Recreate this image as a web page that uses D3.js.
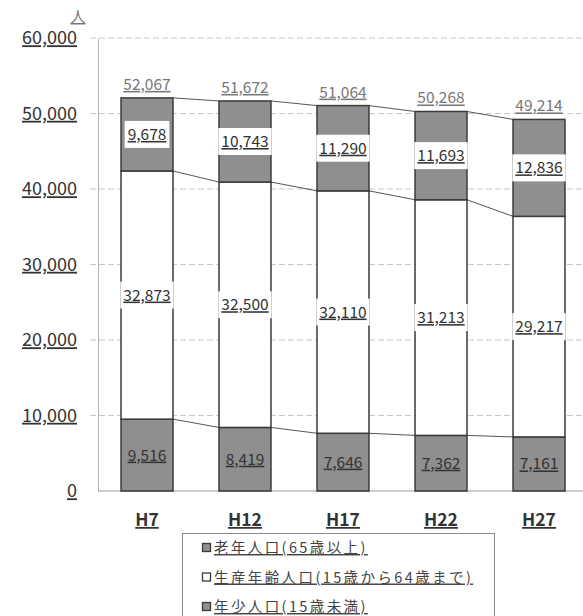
<!DOCTYPE html>
<html>
<head>
<meta charset="utf-8">
<script src="https://cdn.jsdelivr.net/npm/d3@7"></script>
<style>
  html, body { margin: 0; padding: 0; background: #fff; }
  svg { display: block; }
  text { font-family: "Noto Sans CJK JP", "Noto Sans", sans-serif; }
  .ul { text-decoration: underline; }
</style>
</head>
<body>
<svg id="chart" width="583" height="616"></svg>
<script>
// 年齢3区分別人口（人）
const categories = ["H7", "H12", "H17", "H22", "H27"];
const youngPop   = [9516, 8419, 7646, 7362, 7161];       // 年少人口(15歳未満)
const workingPop = [32873, 32500, 32110, 31213, 29217];  // 生産年齢人口(15歳から64歳まで)
const elderlyPop = [9678, 10743, 11290, 11693, 12836];   // 老年人口(65歳以上)
const totalPop   = [52067, 51672, 51064, 50268, 49214];  // 総人口
const yTicks     = [0, 10000, 20000, 30000, 40000, 50000, 60000];
const legendLabels = ["老年人口(65歳以上)", "生産年齢人口(15歳から64歳まで)", "年少人口(15歳未満)"];

const svg = d3.select("#chart");
const fmt = d3.format(",");

const x = d3.scaleBand().domain(categories).range([98, 588]).paddingInner(0.47).paddingOuter(0.235);
const y = d3.scaleLinear().domain([0, 60000]).range([491, 38]);

const gray = "#8f8f8f";
const edge = "#3a3a3a";

// gridlines
svg.append("g").selectAll("line").data(yTicks.slice(1)).join("line")
  .attr("x1", 90).attr("x2", 583)
  .attr("y1", d => y(d)).attr("y2", d => y(d))
  .attr("stroke", "#c8c8c8").attr("stroke-width", 1)
  .attr("stroke-dasharray", "6,3");

// y axis
const yAxis = svg.append("g").attr("transform", "translate(98,0)")
  .call(d3.axisLeft(y).tickValues(yTicks).tickFormat(fmt).tickSize(0).tickPadding(21));
yAxis.select(".domain").attr("stroke", "#b5b5b5");
yAxis.selectAll("text")
  .attr("class", "ul")
  .attr("font-size", 18).attr("fill", "#333")
  .style("font-family", "\"Noto Sans CJK JP\", sans-serif");

// baseline
svg.append("line").attr("x1", 98).attr("x2", 583).attr("y1", y(0)).attr("y2", y(0))
  .attr("stroke", "#9a9a9a");

// unit
svg.append("text").attr("class", "ul").attr("x", 78).attr("y", 22)
  .attr("text-anchor", "middle").attr("font-size", 15).attr("fill", "#777").text("人");

// stacked data
const rows = categories.map((c, i) => ({
  cat: c, young: youngPop[i], working: workingPop[i], elderly: elderlyPop[i], total: totalPop[i]
}));
const stack = d3.stack().keys(["young", "working", "elderly"])(rows);
const fills = { young: gray, working: "#ffffff", elderly: gray };

// connector lines between adjacent bars at each stack level
stack.forEach(layer => {
  for (let i = 0; i < layer.length - 1; i++) {
    svg.append("line")
      .attr("x1", x(categories[i]) + x.bandwidth()).attr("y1", y(layer[i][1]))
      .attr("x2", x(categories[i + 1])).attr("y2", y(layer[i + 1][1]))
      .attr("stroke", "#555").attr("stroke-width", 1);
  }
});

// bars
stack.forEach(layer => {
  svg.append("g").selectAll("rect").data(layer).join("rect")
    .attr("x", d => x(d.data.cat))
    .attr("y", d => y(d[1]))
    .attr("width", x.bandwidth())
    .attr("height", d => y(d[0]) - y(d[1]))
    .attr("fill", fills[layer.key])
    .attr("stroke", edge).attr("stroke-width", 1.5);
});

// segment labels
stack.forEach(layer => {
  const g = svg.append("g");
  layer.forEach(d => {
    const cx = x(d.data.cat) + x.bandwidth() / 2;
    const cy = (y(d[0]) + y(d[1])) / 2;
    const t = g.append("text").attr("class", "ul")
      .attr("x", cx).attr("y", cy + 5.5)
      .attr("text-anchor", "middle").attr("font-size", 15.5)
      .attr("fill", "#333").text(fmt(d.data[layer.key]));
    if (layer.key !== "young") {
      const w = t.node().getComputedTextLength() + 6;
      g.insert("rect", "text:last-child")
        .attr("x", cx - w / 2).attr("y", cy - 13.5)
        .attr("width", w).attr("height", 27).attr("fill", "#fff");
    }
  });
});

// total labels
svg.append("g").selectAll("text").data(rows).join("text")
  .attr("class", "ul")
  .attr("x", d => x(d.cat) + x.bandwidth() / 2)
  .attr("y", (d, i) => y(stack[2][i][1]) - 8)
  .attr("text-anchor", "middle").attr("font-size", 15.5)
  .attr("fill", "#777").text(d => fmt(d.total));

// category labels
svg.append("g").selectAll("text").data(categories).join("text")
  .attr("class", "ul")
  .attr("x", d => x(d) + x.bandwidth() / 2).attr("y", 526)
  .attr("text-anchor", "middle").attr("font-size", 17.5).attr("font-weight", "bold")
  .attr("fill", "#333").text(d => d);

// legend
const lg = svg.append("g");
lg.append("rect").attr("x", 182.5).attr("y", 533.5).attr("width", 312).attr("height", 100)
  .attr("fill", "#fff").attr("stroke", "#888");
const legendFills = [gray, "#ffffff", gray];
legendLabels.forEach((lab, i) => {
  const cy = 548 + i * 29.5;
  lg.append("rect").attr("x", 202.5).attr("y", cy - 4.5).attr("width", 8).attr("height", 8)
    .attr("fill", legendFills[i]).attr("stroke", edge).attr("stroke-width", 1.3);
  lg.append("text").attr("class", "ul").attr("x", 214).attr("y", cy + 5)
    .attr("font-size", 14.5).attr("letter-spacing", 2.4)
    .attr("fill", "#444").text(lab);
});
</script>
</body>
</html>
